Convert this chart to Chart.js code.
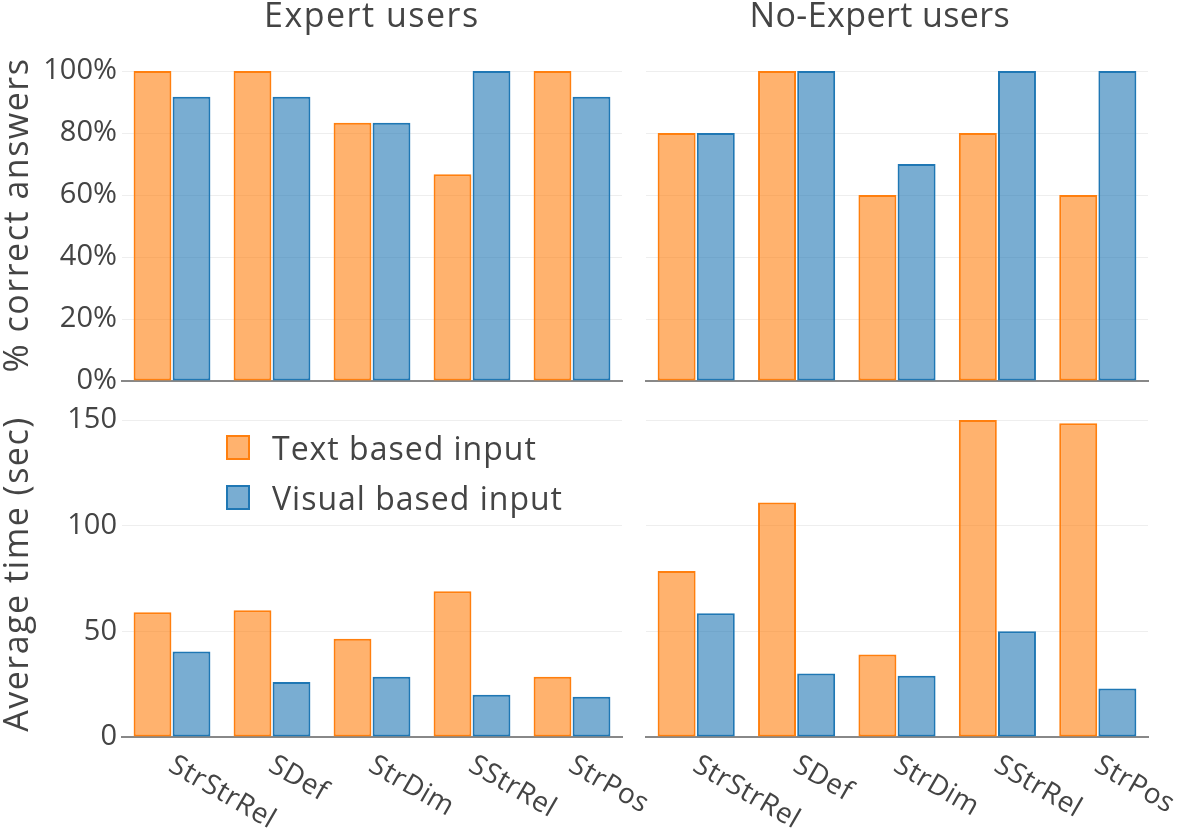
<!DOCTYPE html>
<html>
<head>
<meta charset="utf-8">
<script src="https://cdn.jsdelivr.net/npm/chart.js@4"></script>
<style>
  html, body { margin: 0; padding: 0; background: #fff; }
  #page { position: relative; width: 1180px; height: 830px; overflow: hidden;
          font-family: 'Open Sans', sans-serif; color: #444; }
  #page canvas { position: absolute; left: 0; top: 0; }
  .txt { position: absolute; white-space: nowrap; line-height: 34px; font-size: 34px; letter-spacing: 1.5px; }
  .ytitle { transform: translate(-50%, -50%) rotate(-90deg); }
  .leg { position: absolute; white-space: nowrap; font-size: 32px; line-height: 32px; letter-spacing: 1px; }
  .sw { position: absolute; width: 20px; height: 21px; border: 2px solid; }
</style>
</head>
<body>
<div id="page">
  <canvas id="tl" width="1180" height="830"></canvas>
  <canvas id="tr" width="1180" height="830"></canvas>
  <canvas id="bl" width="1180" height="830"></canvas>
  <canvas id="br" width="1180" height="830"></canvas>
  <div class="txt" id="t1" style="top:-3px;"></div>
  <div class="txt" id="t2" style="top:-3px; letter-spacing:0.4px;"></div>
  <div class="txt ytitle" style="left:15px; top:215px;">% correct answers</div>
  <div class="txt ytitle" style="left:15px; top:574px;">Average time (sec)</div>
  <div id="legend"></div>
</div>
<script>
const categories = ['StrStrRel', 'SDef', 'StrDim', 'SStrRel', 'StrPos'];
const seriesNames = ['Text based input', 'Visual based input'];
const columnTitles = ['Expert users', 'No-Expert users'];

// % correct answers
const expertCorrectText = [100, 100, 83.3, 66.7, 100];
const expertCorrectVisual = [91.7, 91.7, 83.3, 100, 91.7];
const noExpertCorrectText = [80, 100, 60, 80, 60];
const noExpertCorrectVisual = [80, 100, 70, 100, 100];

// average time (sec)
const expertTimeText = [59, 60, 46.5, 69, 28.5];
const expertTimeVisual = [40.5, 26, 28.5, 20, 19];
const noExpertTimeText = [78.5, 111, 39, 150, 148.5];
const noExpertTimeVisual = [58.5, 30, 29, 50, 23];

const correctTicks = [0, 20, 40, 60, 80, 100];
const timeTicks = [0, 50, 100, 150];

const fills = ['rgba(255,127,14,0.6)', 'rgba(31,119,180,0.6)'];
const lines = ['#ff7f0e', '#1f77b4'];
const FONT = "'Open Sans', sans-serif";

// titles + legend
const t1 = document.getElementById('t1');
t1.textContent = columnTitles[0];
const t2 = document.getElementById('t2');
t2.textContent = columnTitles[1];

const legend = document.getElementById('legend');
seriesNames.forEach((name, i) => {
  const sw = document.createElement('div');
  sw.className = 'sw';
  sw.style.left = '226px';
  sw.style.top = (435 + i * 50) + 'px';
  sw.style.background = fills[i];
  sw.style.borderColor = lines[i];
  legend.appendChild(sw);
  const tx = document.createElement('div');
  tx.className = 'leg';
  tx.style.left = '272px';
  tx.style.top = (432 + i * 50) + 'px';
  tx.textContent = name;
  legend.appendChild(tx);
});

// rotated category labels, plotly style (text runs down-right from the tick)
const slantLabels = {
  id: 'slantLabels',
  afterDraw(chart, args, opts) {
    if (!opts.show) return;
    const x = chart.scales.x;
    const ctx = chart.ctx;
    ctx.save();
    ctx.font = '28px ' + FONT;
    ctx.letterSpacing = '0.5px';
    ctx.fillStyle = '#444';
    ctx.textAlign = 'left';
    ctx.textBaseline = 'alphabetic';
    categories.forEach((c, i) => {
      const px = x.getPixelForValue(i);
      ctx.save();
      ctx.translate(px - 5, chart.chartArea.bottom + 33);
      ctx.rotate(Math.PI / 6);
      ctx.fillText(c, 0, 0);
      ctx.restore();
    });
    ctx.restore();
  }
};

function makeChart(id, area, textVals, visualVals, ticks, max, showY, showX, pct) {
  const yw = showY ? 110 : 0;
  new Chart(document.getElementById(id), {
    type: 'bar',
    data: {
      labels: categories,
      datasets: [textVals, visualVals].map((vals, i) => ({
        label: seriesNames[i],
        data: vals,
        backgroundColor: fills[i],
        borderColor: lines[i],
        borderWidth: 2,
        borderSkipped: false,
        categoryPercentage: 0.78,
        barPercentage: 0.97,
        clip: false
      }))
    },
    plugins: [slantLabels],
    options: {
      responsive: false,
      animation: false,
      events: [],
      layout: {
        padding: { left: area[0] - yw, right: 1180 - area[1], top: area[2], bottom: 830 - area[3] }
      },
      plugins: {
        legend: { display: false },
        tooltip: { enabled: false },
        slantLabels: { show: showX }
      },
      scales: {
        x: {
          grid: { display: false },
          border: { display: true, color: '#888', width: 2 },
          ticks: { display: false },
          afterFit(s) { s.height = 0; }
        },
        y: {
          min: 0,
          max: max,
          afterBuildTicks(s) { s.ticks = ticks.map(v => ({ value: v })); },
          grid: { color: ctx => ctx.tick && ctx.tick.value === 0 ? 'rgba(0,0,0,0)' : '#eee', drawTicks: false },
          border: { display: false },
          ticks: {
            display: showY,
            padding: 5,
            color: '#444',
            font: { family: FONT, size: 29 },
            callback: v => pct ? v + '%' : v
          },
          afterFit(s) { s.width = yw; }
        }
      }
    }
  });
}

const L = [122, 622], R = [646, 1148];
const TOP = [71, 381], BOT = [420, 737];

makeChart('tl', [L[0], L[1], TOP[0], TOP[1]], expertCorrectText, expertCorrectVisual, correctTicks, 100, true, false, true);
makeChart('tr', [R[0], R[1], TOP[0], TOP[1]], noExpertCorrectText, noExpertCorrectVisual, correctTicks, 100, false, false, true);
makeChart('bl', [L[0], L[1], BOT[0], BOT[1]], expertTimeText, expertTimeVisual, timeTicks, 150, true, true, false);
makeChart('br', [R[0], R[1], BOT[0], BOT[1]], noExpertTimeText, noExpertTimeVisual, timeTicks, 150, false, true, false);

// column titles, centred where the reference puts them
t1.style.left = (372 - t1.offsetWidth / 2) + 'px';
t2.style.left = (880 - t2.offsetWidth / 2) + 'px';
</script>
</body>
</html>
